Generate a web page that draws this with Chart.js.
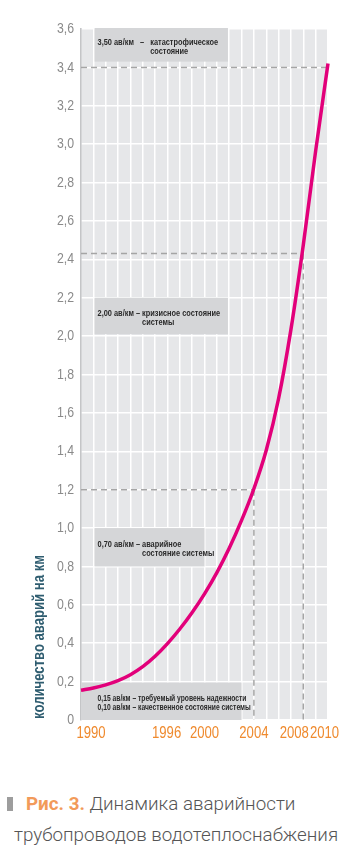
<!DOCTYPE html>
<html><head><meta charset="utf-8">
<script src="https://cdn.jsdelivr.net/npm/chart.js@4.4.1/dist/chart.umd.min.js"></script>
<style>
html,body{margin:0;padding:0;background:#fff;width:354px;height:861px;overflow:hidden;}
#wrap{position:absolute;left:0;top:0;width:354px;height:760px;}
.cap{position:absolute;white-space:nowrap;font-family:Roboto,'Liberation Sans',sans-serif;font-weight:300;font-size:18.8px;color:#555;line-height:24px;}
</style></head><body>
<div id="wrap"><canvas id="c" width="354" height="760"></canvas></div>
<div style="position:absolute;left:7px;top:797px;width:6px;height:14px;background:#9d9d9d"></div>
<div class="cap" style="left:26px;top:792px"><span style="color:#f29a5a;font-weight:700">Рис. 3.</span> Динамика аварийности</div>
<div class="cap" style="left:14px;top:823px">трубопроводов водотеплоснабжения</div>
<script>
// ---- data ----
const years = [1990,1991,1992,1993,1994,1995,1996,1997,1998,1999,2000,2001,2002,2003,2004,2005,2006,2007,2008,2009,2010];
const accidents = [0.155,0.167,0.183,0.205,0.236,0.278,0.332,0.398,0.474,0.560,0.657,0.768,0.895,1.040,1.205,1.405,1.675,2.035,2.475,2.965,3.42];
const xTickLabels = ['1990','1996','2000','2004','2008','2010'];
const markerYears = [2010, 2008, 2004];
const markerValues = [3.4, 2.43, 1.2];
const yTitle = 'количество аварий на км';
const noteValues = ['3,50 ав/км', '2,00 ав/км', '0,70 ав/км'];
const noteDash = ['   –   ', ' – ', ' – '];
const noteDesc = [['катастрофическое','состояние'], ['кризисное состояние','системы'], ['аварийное','состояние системы']];
const bottomNote = ['0,15 ав/км – требуемый уровень надежности', '0,10 ав/км – качественное состояние системы'];

const FAM = "'Liberation Sans',Arial,sans-serif";
const SX = 0.82; // narrow look
function narrowText(ctx, text, x, y, align){
  ctx.save(); ctx.translate(x, y); ctx.scale(SX, 1); ctx.textAlign = align || 'left';
  ctx.fillText(text, 0, 0); ctx.restore();
}
function narrowWidth(ctx, text){ return ctx.measureText(text).width * SX; }

const bgPlugin = {
  id:'bg',
  beforeDraw(chart){
    const {ctx, chartArea:a} = chart;
    ctx.save(); ctx.fillStyle='#e6e7e9';
    ctx.fillRect(a.left, a.top-1, a.right-a.left, a.bottom-a.top+1);
    ctx.restore();
  }
};

const notesPlugin = {
  id:'notes',
  beforeDatasetsDraw(chart){
    const {ctx} = chart; const xs=chart.scales.x, ys=chart.scales.y;
    const boxes = [[1991.1,2001.9,3.43,3.6],[1991.1,2001.9,2.01,2.2],[1991.1,2000.0,0.80,1.0],[1990,2003,0,0.195]];
    ctx.save();
    boxes.forEach((b,i)=>{
      const l=xs.getPixelForValue(b[0]), r=xs.getPixelForValue(b[1]);
      const t=ys.getPixelForValue(b[3]), bt=ys.getPixelForValue(b[2]);
      ctx.fillStyle='#d5d6d8';
      ctx.fillRect(l, i===0? t-1 : t, r-l, bt-t + (i===0?1:0));
      const cy=(t+bt)/2;
      ctx.fillStyle='#2a2a2a'; ctx.textBaseline='middle';
      const tx = xs.getPixelForValue(1991.1)+3;
      if(i<3){
        ctx.font='bold 9px '+FAM;
        const head = noteValues[i]+noteDash[i];
        narrowText(ctx, head+noteDesc[i][0], tx, cy-2.5);
        narrowText(ctx, noteDesc[i][1], tx+narrowWidth(ctx, head), cy+6.5);
      } else {
        ctx.font='bold 8.2px '+FAM;
        narrowText(ctx, bottomNote[0], tx, cy-2.5);
        narrowText(ctx, bottomNote[1], tx, cy+6.5);
      }
    });
    // dashed guide lines
    ctx.strokeStyle='#a5a5a5'; ctx.lineWidth=1.5; ctx.setLineDash([6,4]);
    markerYears.forEach((yr,i)=>{
      const px=xs.getPixelForValue(yr), py=ys.getPixelForValue(markerValues[i]);
      ctx.beginPath(); ctx.moveTo(xs.getPixelForValue(1990), py); ctx.lineTo(px, py); ctx.stroke();
      if(yr<2010){
        ctx.beginPath(); ctx.moveTo(px, py); ctx.lineTo(px, ys.getPixelForValue(0)); ctx.stroke();
      }
    });
    ctx.restore();
  }
};

const labelsPlugin = {
  id:'labels',
  afterDraw(chart){
    const {ctx} = chart; const xs=chart.scales.x, ys=chart.scales.y;
    const shift = {'1990':10,'1996':11.5,'2000':0,'2004':0,'2008':-9,'2010':-3.5};
    ctx.save();
    ctx.textBaseline='middle';
    // y tick labels
    ctx.font='15px '+FAM; ctx.fillStyle='#8a8a8a';
    ys.ticks.forEach(t=>{
      const lbl = t.value===0 ? '0' : t.value.toFixed(1).replace('.',',');
      narrowText(ctx, lbl, chart.chartArea.left-7, ys.getPixelForValue(t.value), 'right');
    });
    // x tick labels
    ctx.font='16px '+FAM; ctx.fillStyle='#ef8a2e';
    xTickLabels.forEach(lb=>{
      narrowText(ctx, lb, xs.getPixelForValue(+lb)+(shift[lb]||0), chart.chartArea.bottom+14, 'center');
    });
    // y title
    ctx.translate(40, 637); ctx.rotate(-Math.PI/2);
    ctx.font='bold 16px '+FAM; ctx.fillStyle='#2f5d70';
    narrowText(ctx, yTitle, 0, 0, 'center');
    ctx.restore();
  }
};

new Chart(document.getElementById('c'), {
  type:'line',
  data:{ datasets:[{
    data: years.map((y,i)=>({x:y, y:accidents[i]})),
    borderColor:'#e2007a', borderWidth:3.5, pointRadius:0,
    cubicInterpolationMode:'monotone',
    fill:false, clip:false
  }]},
  options:{
    responsive:false, animation:false, devicePixelRatio:1,
    layout:{padding:{top:29,right:26,left:0,bottom:0}},
    plugins:{legend:{display:false}, tooltip:{enabled:false}},
    scales:{
      x:{type:'linear', min:1990, max:2010,
        ticks:{stepSize:1, display:false},
        grid:{color:c=>(c.tick && c.tick.value===1990)?'rgba(0,0,0,0)':'#ffffff', lineWidth:1.5, drawTicks:false},
        border:{display:false},
        afterFit:s=>{s.height=40;}
      },
      y:{min:0, max:3.6,
        ticks:{stepSize:0.2, display:false},
        grid:{color:'#ffffff', lineWidth:1.5, drawTicks:false},
        border:{display:true, color:'#c4c5c7', width:1.5},
        afterFit:s=>{s.width=81;}
      }
    }
  },
  plugins:[bgPlugin, notesPlugin, labelsPlugin]
});
</script>
</body></html>
